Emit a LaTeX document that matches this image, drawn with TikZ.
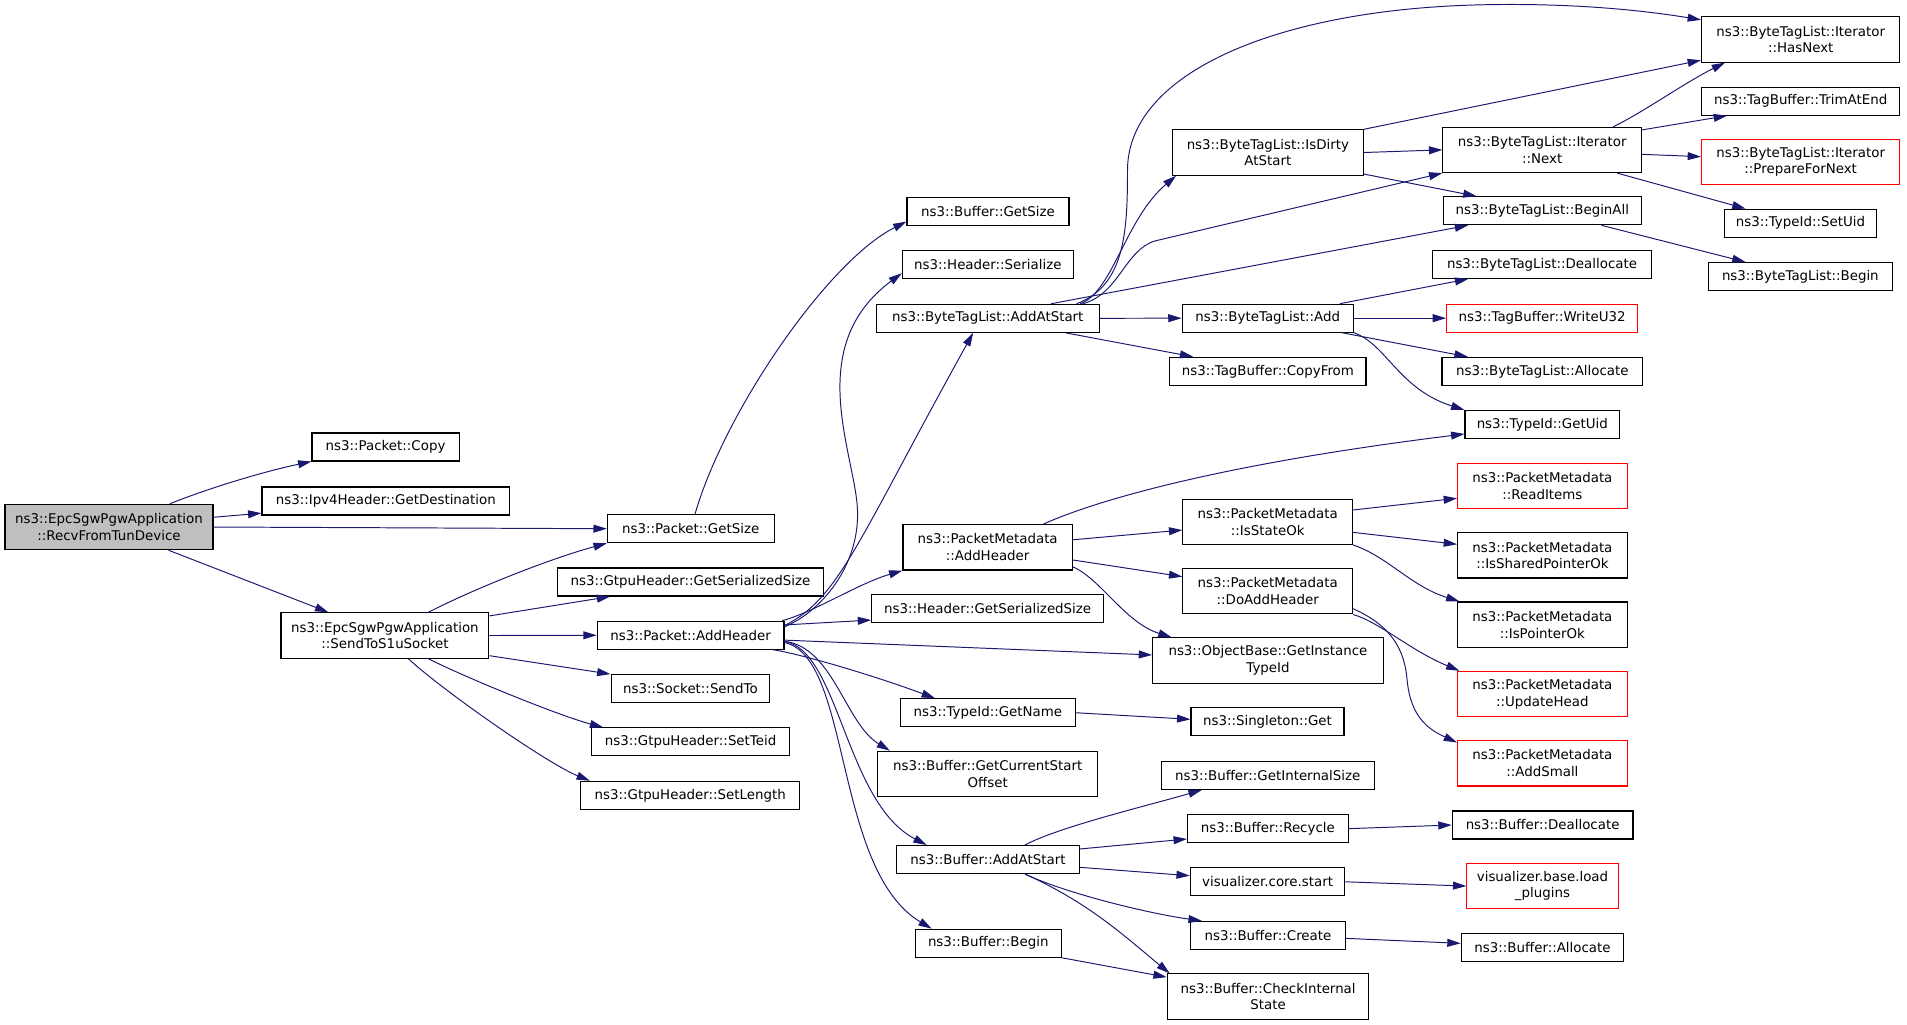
\documentclass[tikz,border=0pt]{standalone}
\usepackage{fontspec}
\setmainfont{DejaVu Sans}
\usetikzlibrary{arrows.meta}
\definecolor{callblue}{HTML}{191970}
\definecolor{rootgray}{HTML}{BFBFBF}
\newcommand{\fnfont}{\fontsize{11}{13.7}\selectfont}

\begin{document}
\begin{tikzpicture}[x=1pt, y=-1pt,
    fn/.style={draw=black, line width=0.9pt, fill=white, font=\fnfont, align=center,
               inner sep=0pt, minimum height=23pt},
    fn2/.style={fn, minimum height=37.3pt},
    undoc/.style={draw=red},
    call/.style={draw=callblue, line width=0.8pt, -{Triangle[length=11pt,width=6.5pt]}}]
    \useasboundingbox (0,0) rectangle (1567.9,842.7);

    \node[fn2, fill=rootgray, minimum width=171pt] (recv) at (89.6,433.3) {ns3::EpcSgwPgwApplication\\::RecvFromTunDevice};
    \node[fn, minimum width=121pt] (pcopy) at (317,367.5) {ns3::Packet::Copy};
    \node[fn, minimum width=203.6pt] (ipv4dst) at (317.2,411.9) {ns3::Ipv4Header::GetDestination};
    \node[fn2, minimum width=171pt] (sends1u) at (316.5,522.5) {ns3::EpcSgwPgwApplication\\::SendToS1uSocket};

    \node[fn, minimum width=137pt] (pgetsize) at (567.9,434.7) {ns3::Packet::GetSize};
    \node[fn, minimum width=218.4pt] (gtpuser) at (567.7,478.5) {ns3::GtpuHeader::GetSerializedSize};
    \node[fn, minimum width=153.6pt] (paddhdr) at (567.8,522.3) {ns3::Packet::AddHeader};
    \node[fn, minimum width=130.6pt] (sendto) at (567.7,566.2) {ns3::Socket::SendTo};
    \node[fn, minimum width=162.5pt] (setteid) at (567.8,610) {ns3::GtpuHeader::SetTeid};
    \node[fn, minimum width=180.3pt] (setlen) at (567.5,653.9) {ns3::GtpuHeader::SetLength};

    \node[fn, minimum width=133.2pt] (bgetsize) at (812.3,173.8) {ns3::Buffer::GetSize};
    \node[fn, minimum width=140.6pt] (hser) at (812.2,217.6) {ns3::Header::Serialize};
    \node[fn, minimum width=183.3pt] (tagaddstart) at (812.1,261.7) {ns3::ByteTagList::AddAtStart};
    \node[fn2, minimum width=139.2pt] (pmaddhdr) at (812,450) {ns3::PacketMetadata\\::AddHeader};
    \node[fn, minimum width=190.6pt] (hgetser) at (812,500.4) {ns3::Header::GetSerializedSize};
    \node[fn, minimum width=144.1pt] (getname) at (812.2,586) {ns3::TypeId::GetName};
    \node[fn2, minimum width=181.1pt] (curstart) at (812.1,636.3) {ns3::Buffer::GetCurrentStart\\Offset};
    \node[fn, minimum width=150.6pt] (baddstart) at (812.3,706.7) {ns3::Buffer::AddAtStart};
    \node[fn, minimum width=120pt] (bbegin) at (812.5,775.5) {ns3::Buffer::Begin};

    \node[fn2, minimum width=157pt] (isdirty) at (1042.4,125.4) {ns3::ByteTagList::IsDirty\\AtStart};
    \node[fn, minimum width=140.7pt] (tagadd) at (1042.3,261.6) {ns3::ByteTagList::Add};
    \node[fn, minimum width=161.4pt] (copyfrom) at (1042.4,305.3) {ns3::TagBuffer::CopyFrom};
    \node[fn2, minimum width=139.5pt] (isstateok) at (1042.3,429) {ns3::PacketMetadata\\::IsStateOk};
    \node[fn2, minimum width=139.5pt] (doaddhdr) at (1042.3,486.1) {ns3::PacketMetadata\\::DoAddHeader};
    \node[fn2, minimum width=189.6pt] (getinst) at (1042.5,543.1) {ns3::ObjectBase::GetInstance\\TypeId};
    \node[fn, minimum width=125.8pt] (singleton) at (1042.1,593.4) {ns3::Singleton::Get};
    \node[fn, minimum width=175.4pt] (getintsize) at (1042.3,637.5) {ns3::Buffer::GetInternalSize};
    \node[fn, minimum width=132.2pt] (recycle) at (1042.4,681.3) {ns3::Buffer::Recycle};
    \node[fn, minimum width=127pt] (corestart) at (1042.2,725) {visualizer.core.start};
    \node[fn, minimum width=127pt] (bcreate) at (1042.5,769) {ns3::Buffer::Create};
    \node[fn2, minimum width=165.7pt] (checkint) at (1042.6,819.4) {ns3::Buffer::CheckInternal\\State};

    \node[fn2, minimum width=163.3pt] (itnext) at (1268,123.2) {ns3::ByteTagList::Iterator\\::Next};
    \node[fn, minimum width=163.2pt] (beginall) at (1268.1,173.3) {ns3::ByteTagList::BeginAll};
    \node[fn, minimum width=180.4pt] (tagdealloc) at (1267.8,217.4) {ns3::ByteTagList::Deallocate};
    \node[fn, undoc, minimum width=157pt] (writeu32) at (1267.9,261.6) {ns3::TagBuffer::WriteU32};
    \node[fn, minimum width=165pt] (tagalloc) at (1268.1,305.3) {ns3::ByteTagList::Allocate};
    \node[fn, minimum width=127pt] (getuid) at (1268,349) {ns3::TypeId::GetUid};
    \node[fn2, undoc, minimum width=139.4pt] (readitems) at (1268.1,399.6) {ns3::PacketMetadata\\::ReadItems};
    \node[fn2, minimum width=139.4pt] (issharedok) at (1268.1,456.6) {ns3::PacketMetadata\\::IsSharedPointerOk};
    \node[fn2, minimum width=139.4pt] (isptrok) at (1268.1,513.6) {ns3::PacketMetadata\\::IsPointerOk};
    \node[fn2, undoc, minimum width=139.4pt] (updatehead) at (1268.1,570.6) {ns3::PacketMetadata\\::UpdateHead};
    \node[fn2, undoc, minimum width=139.4pt] (addsmall) at (1268.1,627.6) {ns3::PacketMetadata\\::AddSmall};
    \node[fn, minimum width=148.6pt] (bdealloc) at (1268.3,678.3) {ns3::Buffer::Deallocate};
    \node[fn2, undoc, minimum width=124.3pt] (loadplug) at (1268.2,728.5) {visualizer.base.load\\\_plugins};
    \node[fn, minimum width=133.6pt] (balloc) at (1268.2,778.9) {ns3::Buffer::Allocate};

    \node[fn2, minimum width=163pt] (hasnext) at (1480.5,32.4) {ns3::ByteTagList::Iterator\\::HasNext};
    \node[fn, minimum width=163pt] (trimend) at (1480.5,83.2) {ns3::TagBuffer::TrimAtEnd};
    \node[fn2, undoc, minimum width=163pt] (prepnext) at (1480.5,133) {ns3::ByteTagList::Iterator\\::PrepareForNext};
    \node[fn, minimum width=125.5pt] (setuid) at (1480.3,183.5) {ns3::TypeId::SetUid};
    \node[fn, minimum width=150.9pt] (tagbegin) at (1480.2,227.4) {ns3::ByteTagList::Begin};

    \draw[call] ([xshift=50pt]recv.north) .. controls (175,400) and (220,387) .. (pcopy.south west);
    \draw[call] ([yshift=8pt]recv.east) -- ([yshift=-10pt]ipv4dst.west);
    \draw[call] (recv.east) -- (pgetsize.west);
    \draw[call] ([xshift=49pt]recv.south) -- ([xshift=-46.5pt]sends1u.north);

    \draw[call] ([xshift=35.7pt]sends1u.north) .. controls (392,483) and (454,458.8) .. (pgetsize.south west);
    \draw[call] ([yshift=-3pt]sends1u.north east) -- ([xshift=-66pt]gtpuser.south);
    \draw[call] (sends1u.east) -- (paddhdr.west);
    \draw[call] ([yshift=2.5pt]sends1u.south east) -- (sendto.north west);
    \draw[call] ([xshift=35.7pt]sends1u.south) .. controls (387,559) and (461,588.8) .. ([xshift=-71.8pt]setteid.north);
    \draw[call] ([xshift=19.2pt]sends1u.south) .. controls (365.7,569) and (450,627.7) .. ([xshift=-82.5pt]setlen.north);

    \draw[call] ([xshift=3.5pt]pgetsize.north) .. controls (595,340) and (680,215) .. ([yshift=-8.4pt]bgetsize.west);
    \draw[call] ([yshift=7pt]paddhdr.east) .. controls (675,503) and (707,465) .. (705,419)
        .. controls (703,373) and (660,285) .. ([yshift=-7pt]hser.west);
    \draw[call] ([yshift=8pt]paddhdr.east) .. controls (690,492) and (705,445) .. ([xshift=-12pt]tagaddstart.south);
    \draw[call] ([xshift=-2pt]paddhdr.north east) .. controls (670,503) and (705,480) .. (pmaddhdr.south west);
    \draw[call] ([yshift=8.5pt]paddhdr.east) -- ([yshift=-9.4pt]hgetser.west);
    \draw[call] ([yshift=-4pt]paddhdr.east) -- ([yshift=4.6pt]getinst.west);
    \draw[call] ([xshift=68pt]paddhdr.south) .. controls (660,538) and (720,556) .. ([xshift=-43.5pt]getname.north);
    \draw[call] ([yshift=-5pt]paddhdr.east) .. controls (685,532) and (695,595) .. ([xshift=-80.4pt]curstart.north);
    \draw[call] ([yshift=-5pt]paddhdr.east) .. controls (690,535) and (695,660) .. ([xshift=-50.4pt]baddstart.north);
    \draw[call] ([yshift=-6pt]paddhdr.east) .. controls (700,540) and (685,715) .. ([xshift=-46.5pt]bbegin.north);

    \draw[call] ([xshift=73pt]tagaddstart.north) .. controls (925,235) and (927,190) .. (927,140)
        .. controls (927,60) and (1050,8) .. (1216,4) .. controls (1300,2) and (1360,10) .. ([yshift=-3pt]hasnext.north west);
    \draw[call] ([xshift=76pt]tagaddstart.north) .. controls (915,240) and (925,180) .. ([xshift=3.5pt]isdirty.south west);
    \draw[call] ([xshift=78pt]tagaddstart.north) .. controls (920,242) and (925,205) .. (950,198) -- (itnext.south west);
    \draw[call] ([xshift=52pt]tagaddstart.north) -- ([xshift=-61pt]beginall.south);
    \draw[call] (tagaddstart.east) -- (tagadd.west);
    \draw[call] ([xshift=64pt]tagaddstart.south) -- ([xshift=-61.3pt]copyfrom.north);

    \draw[call] (isdirty.north east) -- ([yshift=2pt]hasnext.south west);
    \draw[call] (isdirty.east) -- (itnext.west);
    \draw[call] ([yshift=1.4pt]isdirty.south east) -- ([xshift=-54.1pt]beginall.north);

    \draw[call] ([xshift=58.5pt]itnext.north) .. controls (1350,93) and (1385,68) .. ([xshift=-62.2pt]hasnext.south);
    \draw[call] ([yshift=-2.7pt]itnext.north east) -- ([xshift=21.4pt]trimend.south west);
    \draw[call] ([yshift=-3.7pt]itnext.east) -- ([yshift=4.2pt]prepnext.west);
    \draw[call] ([xshift=61.5pt]itnext.south) -- ([xshift=-45.1pt]setuid.north);
    \draw[call] ([xshift=48.6pt]beginall.south) -- ([xshift=-45pt]tagbegin.north);

    \draw[call] ([xshift=59.4pt]tagadd.north) -- ([xshift=-60.6pt]tagdealloc.south);
    \draw[call] (tagadd.east) -- (writeu32.west);
    \draw[call] ([xshift=61pt]tagadd.south) -- ([xshift=-61.3pt]tagalloc.north);
    \draw[call] (tagadd.south east) .. controls (1140,283) and (1150,320) .. (getuid.north west);

    \draw[call] ([xshift=45.8pt]pmaddhdr.north) .. controls (900,412) and (1000,382) .. ([yshift=-7.8pt]getuid.west);
    \draw[call] ([yshift=6.2pt]pmaddhdr.east) -- ([yshift=-6.8pt]isstateok.west);
    \draw[call] ([yshift=-10.4pt]pmaddhdr.east) -- ([yshift=12pt]doaddhdr.west);
    \draw[call] ([yshift=-16pt]pmaddhdr.east) .. controls (905,476) and (925,512) .. ([xshift=-79.2pt]getinst.north);

    \draw[call] ([yshift=9.7pt]isstateok.east) -- ([yshift=-10.1pt]readitems.west);
    \draw[call] ([yshift=-8.7pt]isstateok.east) -- ([yshift=9.1pt]issharedok.west);
    \draw[call] (isstateok.south east) .. controls (1140,457) and (1160,482) .. ([xshift=2pt]isptrok.north west);
    \draw[call] (doaddhdr.south east) .. controls (1135,512) and (1160,535) .. ([xshift=2pt]updatehead.north west);
    \draw[call] ([yshift=4.7pt]doaddhdr.south east) .. controls (1145,515) and (1155,535) .. (1157,560)
        .. controls (1160,590) and (1175,600) .. ([yshift=-2pt]addsmall.north west);

    \draw[call] (getname.east) -- ([yshift=2pt]singleton.west);

    \draw[call] ([xshift=30.4pt]baddstart.north) .. controls (870,680) and (945,662) .. ([xshift=-54.2pt]getintsize.south);
    \draw[call] ([yshift=8.7pt]baddstart.east) -- ([yshift=-8.5pt]recycle.west);
    \draw[call] ([yshift=-6.4pt]baddstart.east) -- ([yshift=5pt]corestart.west);
    \draw[call] ([xshift=30.4pt]baddstart.south) .. controls (880,736) and (950,752) .. ([xshift=-54.4pt]bcreate.north);
    \draw[call] ([xshift=30.4pt]baddstart.south) .. controls (895,742) and (925,770) .. ([xshift=2.4pt]checkint.north west);
    \draw[call] (bbegin.south east) -- ([yshift=16pt]checkint.west);

    \draw[call] (recycle.east) -- (bdealloc.west);
    \draw[call] (corestart.east) -- (loadplug.west);
    \draw[call] ([yshift=-2.5pt]bcreate.east) -- ([yshift=3.3pt]balloc.west);
\end{tikzpicture}
\end{document}
